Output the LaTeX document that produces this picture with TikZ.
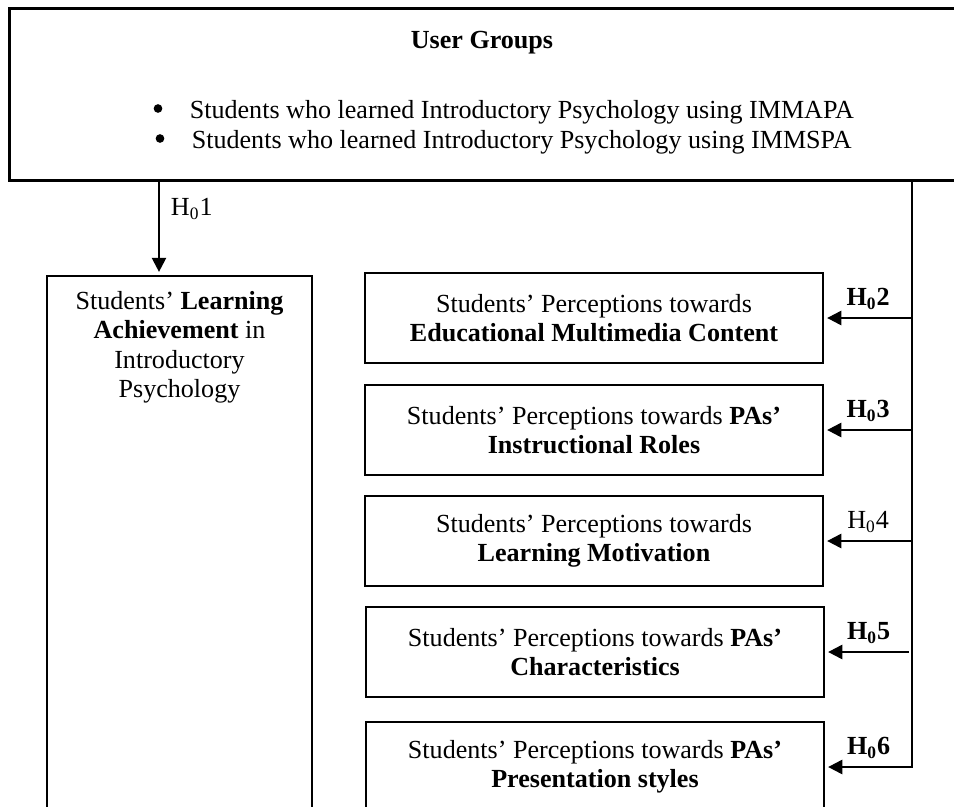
\documentclass[tikz,border=0pt]{standalone}
\usepackage{fontspec}
\setmainfont{Liberation Serif}
\usetikzlibrary{arrows.meta,positioning}
\tikzset{
  okvir/.style={draw=black,line width=1.2pt,align=center,inner sep=2pt,
                font=\fontsize{12}{13.5}\selectfont,minimum width=210.7pt,minimum height=41.4pt},
  strelica/.style={-{Triangle[length=6.5pt,width=6.5pt]},line width=1pt,black,shorten >=1.3pt},
  natpis/.style={font=\fontsize{12}{13.5}\selectfont,inner sep=2pt,align=center},
}

\begin{document}
\begin{tikzpicture}[x=0.46pt,y=-0.46pt]
  \useasboundingbox (0,0) rectangle (954,807);

  % ---------- USER GROUPS ----------
  \node[draw=black,line width=1.4pt,minimum width=442pt,minimum height=78.7pt] (grupe) at (489.5,94.5) {};
  \node[natpis] (naslov) at (482,43) {\textbf{User Groups}};
  \node[natpis,anchor=west] (grupa1) at (185,112) {Students who learned Introductory Psychology using IMMAPA};
  \node[natpis,anchor=west] (grupa2) at (187,142) {Students who learned Introductory Psychology using IMMSPA};
  % bullets
  \fill (grupa1.west) ++(-27,-3.5) circle (2pt);
  \fill (grupa2.west) ++(-27,-3.5) circle (2pt);

  % ---------- LEARNING ACHIEVEMENT ----------
  \node[okvir,minimum width=121.9pt,minimum height=264pt] (uspeh) at (179.5,563) {};
  \node[natpis,anchor=north,below=5.5pt of uspeh.north] (uspehtekst)
       {Students' \textbf{Learning}\\\textbf{Achievement} in\\Introductory\\Psychology};

  % ---------- PERCEPTIONS ----------
  \node[okvir] (sadrzaj) at (594,318) {Students' Perceptions towards\\\textbf{Educational Multimedia Content}};
  \node[okvir] (uloge)   at (594,430) {Students' Perceptions towards \textbf{PAs'}\\\textbf{Instructional Roles}};
  \node[okvir] (motiv)   at (594,541) {Students' Perceptions towards\\\textbf{Learning Motivation}};
  \node[okvir] (osobine) at (595,652) {Students' Perceptions towards \textbf{PAs'}\\\textbf{Characteristics}};
  \node[okvir] (stil)    at (595,767) {Students' Perceptions towards \textbf{PAs'}\\\textbf{Presentation styles}};

  % ---------- HYPOTHESES ----------
  \coordinate (h1) at (159,180);
  \coordinate (vrh) at (912,180);

  \draw[strelica] (h1) -- node[natpis,pos=0.31,right=3pt] {H\textsubscript{0}1} (h1 |- uspeh.north);

  \draw[strelica] (vrh |- sadrzaj.east) -- node[natpis,above=1.5pt] {\textbf{H\textsubscript{0}2}} (sadrzaj.east);
  \draw[strelica] (vrh |- uloge.east)   -- node[natpis,above=1.5pt] {\textbf{H\textsubscript{0}3}} (uloge.east);
  \draw[strelica] (vrh |- motiv.east)   -- node[natpis,above=1.5pt] {H\textsubscript{0}4} (motiv.east);
  \draw[strelica,shorten <=1.4pt] (vrh |- osobine.east) -- node[natpis,above=1.5pt] {\textbf{H\textsubscript{0}5}} (osobine.east);
  \draw[strelica] (vrh) |- node[natpis,pos=0.75,above=1.5pt] {\textbf{H\textsubscript{0}6}} (stil.east);

\end{tikzpicture}
\end{document}
